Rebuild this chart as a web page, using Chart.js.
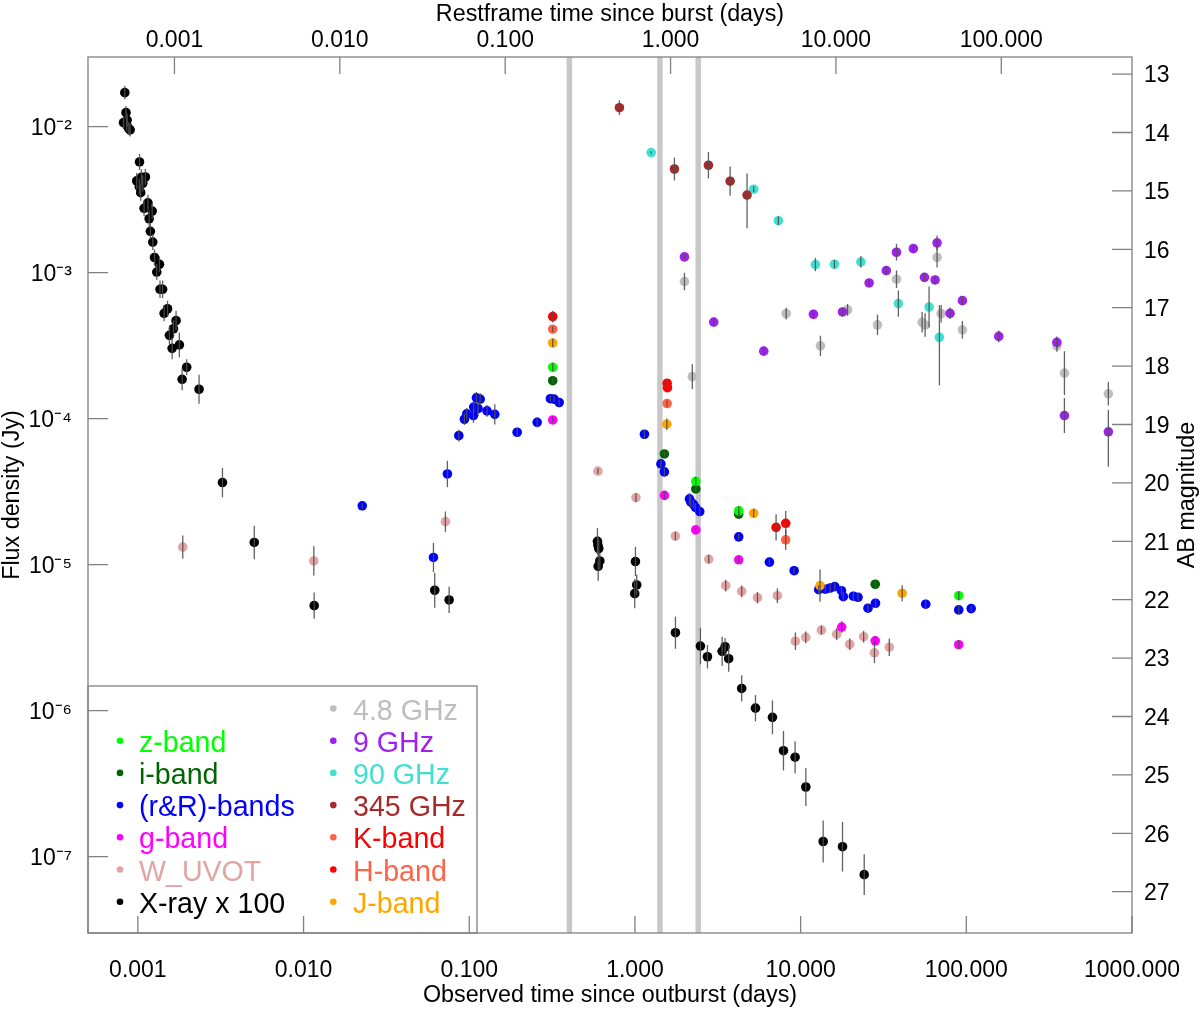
<!DOCTYPE html>
<html><head><meta charset="utf-8">
<script src="https://cdn.jsdelivr.net/npm/chart.js@4.4.0/dist/chart.umd.min.js"></script>
<style>html,body{margin:0;padding:0;background:#fff}#wrap{width:1200px;height:1013px;position:relative}</style>
</head><body><div id="wrap"><canvas id="c"></canvas></div>
<script>
// ---------------- DATA (observed time in days, flux density in Jy, error half-width in dex) ----------------
const xTickVals = [0.001,0.01,0.1,1,10,100,1000];
const restTickVals = [0.001,0.01,0.1,1,10,100];
const yTickVals = [1e-2,1e-3,1e-4,1e-5,1e-6,1e-7];
const magTickVals = [13,14,15,16,17,18,19,20,21,22,23,24,25,26,27];
const onePlusZ = 1.62;
const bandTimes = [0.402,1.415,2.41];

const xrayT = [0.000834,0.000848,0.000819,0.000857,0.000881,0.000898,0.000861,
 0.001023,0.000984,0.00105,0.00111,0.00102,0.00104,0.00107,
 0.00115,0.00122,0.00109,0.00117,0.00119,0.00123,0.00126,0.00135,0.00130,
 0.00136,0.00141,0.00151,0.00144,0.00170,0.00164,0.00155,0.00178,0.00161,0.00197,0.00185,0.00234,
 0.00324,0.00504,0.01159,0.0619,0.0756,
 0.594,0.598,0.605,0.614,0.600,
 1.007,1.025,0.997,
 1.756,2.485,2.739,3.36,3.50,3.68,4.41,5.34,6.76,7.88,9.26,10.75,13.68,17.9,24.2];
const xrayF = [0.0171,0.01247,0.01065,0.01027,0.00969,0.00949,0.0111,
 0.00573,0.00425,0.0045,0.00452,0.00388,0.00353,0.00409,
 0.00301,0.00264,0.00276,0.00234,0.00192,0.00162,0.00127,0.00114,0.00101,
 0.000769,0.000769,0.000566,0.000527,0.000469,0.000413,0.000372,0.000320,0.000303,0.000225,0.000186,0.000159,
 3.65e-5,1.42e-5,5.24e-6,6.68e-6,5.73e-6,
 1.445e-5,1.36e-5,1.29e-5,1.06e-5,9.75e-6,
 1.05e-5,7.26e-6,6.33e-6,
 3.42e-6,2.77e-6,2.34e-6,2.55e-6,2.74e-6,2.27e-6,1.42e-6,1.04e-6,9.0e-7,5.32e-7,4.80e-7,3.0e-7,1.27e-7,1.17e-7,7.53e-8];
const xrayE = [0.045,0.045,0.045,0.045,0.045,0.045,0.045,
 0.055,0.055,0.055,0.055,0.055,0.055,0.055,
 0.055,0.055,0.055,0.055,0.055,0.055,0.055,0.055,0.055,
 0.06,0.06,0.055,0.055,0.068,0.06,0.06,0.085,0.075,0.055,0.075,0.1,
 0.1,0.115,0.09,0.12,0.09,
 0.09,0.06,0.06,0.06,0.1,
 0.1,0.07,0.1,
 0.11,0.125,0.08,0.1,0.06,0.09,0.09,0.09,0.116,0.135,0.11,0.13,0.144,0.17,0.14];

const uvotT = [0.001866,0.01153,0.0718,0.598,1.014,1.755,2.79,3.53,4.41,5.49,7.24,9.30,10.74,13.35,16.5,19.8,24.0,27.9,34.3];
const uvotF = [1.32e-5,1.06e-5,1.97e-5,4.37e-5,2.88e-5,1.57e-5,1.09e-5,7.18e-6,6.57e-6,5.94e-6,6.13e-6,2.99e-6,3.18e-6,3.56e-6,3.34e-6,2.85e-6,3.21e-6,2.49e-6,2.72e-6];
const uvotE = [0.08,0.1,0.07,0.02,0.03,0.03,0.03,0.04,0.04,0.04,0.05,0.06,0.04,0.03,0.04,0.04,0.04,0.07,0.06];

const rT = [0.0226,0.0608,0.0738,0.0865,0.0935,0.0966,0.1064,0.106,0.1105,0.1164,0.113,0.128,0.1426,0.1946,0.257,0.309,0.325,0.349,
 1.141,1.435,1.506,2.133,2.173,2.254,2.318,2.461,4.23,6.48,9.14,12.86,14.1,15.07,16.07,17.63,18.1,20.8,22.2,25.5,28.3,56.9,90.0,107];
const rF = [2.53e-5,1.12e-5,4.18e-5,7.65e-5,9.91e-5,1.08e-4,1.20e-4,1.05e-4,1.39e-4,1.36e-4,1.17e-4,1.13e-4,1.07e-4,8.07e-5,9.44e-5,1.37e-4,1.36e-4,1.29e-4,
 7.82e-5,4.90e-5,4.32e-5,2.82e-5,2.69e-5,2.59e-5,2.47e-5,2.31e-5,1.55e-5,1.04e-5,9.09e-6,6.74e-6,6.79e-6,6.92e-6,7.07e-6,6.63e-6,6.04e-6,6.08e-6,5.98e-6,5.03e-6,5.44e-6,5.36e-6,4.90e-6,5.0e-6];
const rE = [0.02,0.1,0.09,0.04,0.04,0.04,0.04,0.05,0.04,0.04,0.05,0.04,0.07,0.03,0.035,0.02,0.02,0.02,
 0.03,0.03,0.03,0.04,0.04,0.03,0.03,0.03,0.02,0.02,0.02,0.03,0.03,0.03,0.03,0.03,0.03,0.03,0.03,0.03,0.03,0.03,0.03,0.02];

const zT = [0.319,2.33,4.23,90.0];
const zF = [2.25e-4,3.72e-5,2.34e-5,6.13e-6];
const zE = [0.03,0.03,0.03,0.03];
const iT = [0.319,1.506,2.33,4.23,28.2];
const iF = [1.82e-4,5.73e-5,3.30e-5,2.22e-5,7.34e-6];
const iE = [0.02,0.02,0.02,0.02,0.02];
const gT = [0.319,1.506,2.33,4.23,17.7,28.2,90.0];
const gF = [9.80e-5,2.98e-5,1.73e-5,1.08e-5,3.74e-6,3.01e-6,2.83e-6];
const gE = [0.02,0.03,0.02,0.02,0.04,0.03,0.03];
const kT = [0.319,1.564,1.571,7.11,8.13];
const kF = [5.0e-4,1.75e-4,1.63e-4,1.80e-5,1.92e-5];
const kE = [0.04,0.02,0.02,0.09,0.085];
const hT = [0.319,1.564,8.13];
const hF = [4.1e-4,1.27e-4,1.48e-5];
const hE = [0.02,0.02,0.07];
const jT = [0.319,1.556,5.21,13.1,41.0];
const jF = [3.3e-4,9.16e-5,2.25e-5,7.18e-6,6.37e-6];
const jE = [0.03,0.04,0.03,0.11,0.055];

const g345T = [0.806,1.731,2.777,3.754,4.75];
const g345F = [0.01349,0.00513,0.00544,0.00423,0.0034];
const g345E = [0.05,0.078,0.09,0.1,[0.148,0.228]];
const g90T = [1.253,5.21,7.34,12.28,16.0,23.1,38.9,59.6,68.8];
const g90F = [0.00664,0.00373,0.00227,0.001135,0.001142,0.001184,0.000614,0.000582,0.000361];
const g90E = [0.01,0.02,0.03,0.045,0.03,0.04,0.09,0.14,[0.22,0.33]];
const g9T = [1.99,2.99,5.99,11.95,17.9,25.9,32.9,37.9,47.9,66.6,55.9,64.8,79.8,94.7,157,352,391,720];
const g9F = [0.001282,0.000459,0.000290,0.000519,0.000538,0.000850,0.001032,0.00138,0.00146,0.0016,0.000929,0.000891,0.000527,0.000643,0.000366,0.000333,0.000105,8.13e-5];
const g9E = [0.02,0.03,0.03,0.03,0.03,0.025,0.03,0.057,0.02,0.05,0.03,0.03,0.04,0.03,0.04,0.04,0.12,[0.15,0.24]];
const g48T = [1.99,2.22,8.18,13.17,19.2,29.1,37.9,54.1,56.4,66.6,70.5,94.7,352,391,720];
const g48F = [0.000869,0.000194,0.000524,0.000315,0.000556,0.000439,0.000902,0.000457,0.000438,0.001274,0.000524,0.000406,0.000315,0.000205,0.000148];
const g48E = [0.06,0.085,0.04,0.07,0.04,0.07,0.06,0.07,0.08,0.07,0.06,0.06,0.04,[0.15,0.15],0.08];

const legendLeftLabels = ['z-band','i-band','(r&R)-bands','g-band','W_UVOT','X-ray x 100'];
const legendRightLabels = ['4.8 GHz','9 GHz','90 GHz','345 GHz','K-band','H-band','J-band'];

// ---------------- STYLE ----------------
const FONT = "'Liberation Sans', Arial, Helvetica, sans-serif";
const C = {z:'#00FF00', i:'#006400', r:'#0000FF', g:'#FF00FF', uv:'#E2A4A4', x:'#000000',
  g48:'#BEBEBE', g9:'#A020F0', g90:'#40E0D0', g345:'#A52A2A', red:'#FF0000', tomato:'#FF6347', j:'#FFA500'};
const legendLeftDot = [C.z,C.i,C.r,C.g,C.uv,C.x];
const legendLeftText = [C.z,C.i,C.r,C.g,C.uv,C.x];
const legendRightDot = [C.g48,C.g9,C.g90,C.g345,C.tomato,C.red,C.j];
const legendRightText = [C.g48,C.g9,C.g90,C.g345,C.red,C.tomato,C.j];

const pts = (T,F)=>T.map((t,k)=>({x:t,y:F[k]}));
const series = [
  [uvotT,uvotF,uvotE,C.uv],[xrayT,xrayF,xrayE,C.x],[gT,gF,gE,C.g],[rT,rF,rE,C.r],[iT,iF,iE,C.i],[zT,zF,zE,C.z],
  [jT,jF,jE,C.j],[hT,hF,hE,C.tomato],[kT,kF,kE,C.red],
  [g48T,g48F,g48E,C.g48],[g9T,g9F,g9E,C.g9],[g90T,g90F,g90E,C.g90],[g345T,g345F,g345E,C.g345]
];
const datasets = [];
bandTimes.forEach(b=>datasets.push({data:[{x:b,y:3e-8},{x:b,y:3e-2}],showLine:true,borderColor:'#C8C8C8',borderWidth:5.5,pointRadius:0,order:100}));
series.forEach((s,k)=>datasets.push({data:pts(s[0],s[1]),err:s[2],backgroundColor:s[3],borderWidth:0,pointRadius:4.8,pointHoverRadius:4.8,order:-k}));

const supMap = {'-':'\u207B','0':'\u2070','1':'\u00B9','2':'\u00B2','3':'\u00B3','4':'\u2074','5':'\u2075','6':'\u2076','7':'\u2077','8':'\u2078','9':'\u2079'};
const sup = n => String(n).split('').map(ch=>supMap[ch]).join('');

const errPlugin = {id:'err', afterDatasetsDraw(chart){
  const ctx=chart.ctx, xs=chart.scales.x, ys=chart.scales.y, a=chart.chartArea;
  ctx.save(); ctx.beginPath(); ctx.rect(a.left,a.top,a.right-a.left,a.bottom-a.top); ctx.clip();
  ctx.strokeStyle='rgba(80,80,80,0.9)'; ctx.lineWidth=1.3;
  chart.data.datasets.forEach(ds=>{ if(!ds.err) return;
    ds.data.forEach((p,k)=>{ const e=ds.err[k]; const up=Array.isArray(e)?e[0]:e, dn=Array.isArray(e)?e[1]:e;
      const px=xs.getPixelForValue(p.x);
      const y1=ys.getPixelForValue(p.y*Math.pow(10,up)), y2=ys.getPixelForValue(p.y/Math.pow(10,dn));
      ctx.beginPath(); ctx.moveTo(px,y1); ctx.lineTo(px,y2); ctx.stroke(); });
  });
  ctx.restore();
}};

const framePlugin = {id:'frame', afterDraw(chart){
  const ctx=chart.ctx, a=chart.chartArea, s=chart.scales;
  ctx.save();
  // legend box
  const lx0=a.left, ly0=686, lx1=477, ly1=a.bottom;
  ctx.fillStyle='#fff'; ctx.fillRect(lx0,ly0,lx1-lx0,ly1-ly0);
  ctx.strokeStyle='#808080'; ctx.lineWidth=1.3; ctx.strokeRect(lx0,ly0,lx1-lx0,ly1-ly0);
  ctx.font='28.6px '+FONT; ctx.textAlign='left'; ctx.textBaseline='alphabetic';
  const base0=719.5, step=32.2;
  legendRightLabels.forEach((t,k)=>{ const yb=base0+step*k;
    ctx.fillStyle=legendRightDot[k]; ctx.beginPath(); ctx.arc(333.3,yb-11,3.3,0,2*Math.PI); ctx.fill();
    ctx.fillStyle=legendRightText[k]; ctx.fillText(t,353,yb); });
  legendLeftLabels.forEach((t,k)=>{ const yb=base0+step*(k+1);
    ctx.fillStyle=legendLeftDot[k]; ctx.beginPath(); ctx.arc(120,yb-11,3.3,0,2*Math.PI); ctx.fill();
    ctx.fillStyle=legendLeftText[k]; ctx.fillText(t,139,yb); });
  // inward ticks
  ctx.strokeStyle='#808080'; ctx.lineWidth=1.3; ctx.beginPath();
  s.x.ticks.forEach(t=>{const p=s.x.getPixelForValue(t.value); ctx.moveTo(p,a.bottom); ctx.lineTo(p,a.bottom-17);});
  s.x2.ticks.forEach(t=>{const p=s.x2.getPixelForValue(t.value); ctx.moveTo(p,a.top); ctx.lineTo(p,a.top+17);});
  s.y.ticks.forEach(t=>{const p=s.y.getPixelForValue(t.value); ctx.moveTo(a.left,p); ctx.lineTo(a.left+20,p);});
  s.y2.ticks.forEach(t=>{const p=s.y2.getPixelForValue(t.value); ctx.moveTo(a.right,p); ctx.lineTo(a.right-20,p);});
  ctx.stroke();
  ctx.strokeRect(a.left,a.top,a.right-a.left,a.bottom-a.top);
  // axis titles
  ctx.fillStyle='#000'; ctx.font='23.3px '+FONT; ctx.textAlign='center'; ctx.textBaseline='alphabetic';
  ctx.fillText('Restframe time since burst (days)',610,20.5);
  ctx.fillText('Observed time since outburst (days)',610,1001.5);
  ctx.save(); ctx.translate(18.5,(a.top+a.bottom)/2); ctx.rotate(-Math.PI/2); ctx.fillText('Flux density (Jy)',0,0); ctx.restore();
  ctx.save(); ctx.translate(1193.5,(a.top+a.bottom)/2); ctx.rotate(-Math.PI/2); ctx.fillText('AB magnitude',0,0); ctx.restore();
  ctx.restore();
}};

const tickFont = {size:23,family:FONT};
const noGrid = {display:false}, noBorder = {display:false};
const yMin=3e-8, yMax=3e-2;
new Chart(document.getElementById('c'),{
  type:'scatter',
  data:{datasets},
  options:{
    responsive:true, maintainAspectRatio:false, animation:false,
    layout:{padding:0},
    plugins:{legend:{display:false},tooltip:{enabled:false}},
    events:[],
    scales:{
      x:{type:'logarithmic',position:'bottom',min:0.0005,max:1000,grid:noGrid,border:noBorder,
         afterBuildTicks:sc=>{sc.ticks=xTickVals.map(v=>({value:v}));},
         afterFit:sc=>{sc.height=80;},
         ticks:{autoSkip:false,maxRotation:0,padding:16,color:'#000',font:tickFont,callback:v=>Number(v).toFixed(3)}},
      x2:{type:'logarithmic',position:'top',min:0.0005/onePlusZ,max:1000/onePlusZ,grid:noGrid,border:noBorder,
         afterBuildTicks:sc=>{sc.ticks=restTickVals.map(v=>({value:v}));},
         afterFit:sc=>{sc.height=57;},
         ticks:{autoSkip:false,maxRotation:0,padding:-5,color:'#000',font:tickFont,callback:v=>Number(v).toFixed(3)}},
      y:{type:'logarithmic',position:'left',min:yMin,max:yMax,grid:noGrid,border:noBorder,
         afterBuildTicks:sc=>{sc.ticks=yTickVals.map(v=>({value:v}));},
         afterFit:sc=>{sc.width=88;},
         ticks:{autoSkip:false,padding:8,labelOffset:2,color:'#000',font:tickFont,callback:v=>'10'+sup(Math.round(Math.log10(v)))}},
      y2:{type:'linear',position:'right',reverse:true,min:8.9-2.5*Math.log10(yMax),max:8.9-2.5*Math.log10(yMin),grid:noGrid,border:noBorder,
         afterBuildTicks:sc=>{sc.ticks=magTickVals.map(v=>({value:v}));},
         afterFit:sc=>{sc.width=68;},
         ticks:{autoSkip:false,padding:4,labelOffset:2,color:'#000',font:tickFont,callback:v=>String(v)}}
    }
  },
  plugins:[errPlugin,framePlugin]
});
</script></body></html>
